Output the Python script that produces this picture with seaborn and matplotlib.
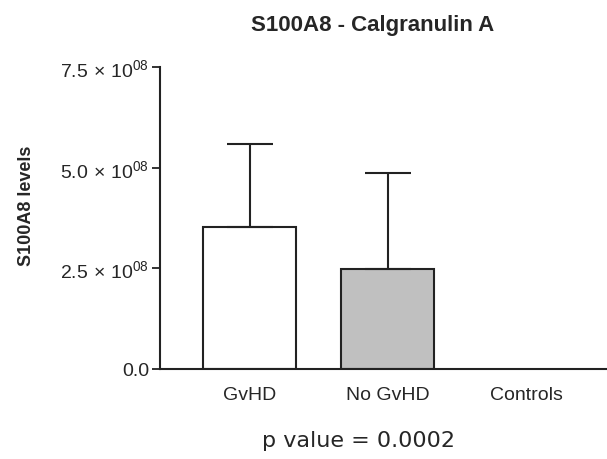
import numpy as np
import pandas as pd
import matplotlib
matplotlib.use("Agg")
import matplotlib.pyplot as plt
import seaborn as sns

# =========================
# DATA
# =========================
groups = ["GvHD", "No GvHD", "Controls"]
means = [3.52e8, 2.48e8, 0.0]
sd_upper = [2.06e8, 2.38e8, 0.0]
bar_colors = ["#ffffff", "#c0c0c0", "#ffffff"]
yticks = [0.0, 2.5e8, 5.0e8, 7.5e8]
ytick_labels = ["0.0",
                r"2.5$\,\times\,$10$^{08}$",
                r"5.0$\,\times\,$10$^{08}$",
                r"7.5$\,\times\,$10$^{08}$"]

df = pd.DataFrame({"group": groups, "level": means})

# =========================
# STYLE
# =========================
sns.set_style("ticks")
plt.rcParams["font.family"] = ["Liberation Sans", "DejaVu Sans"]
plt.rcParams["mathtext.fontset"] = "custom"
plt.rcParams["mathtext.rm"] = "Liberation Sans"
plt.rcParams["mathtext.it"] = "Liberation Sans"
plt.rcParams["font.size"] = 11

edge = "#222222"

fig = plt.figure(figsize=(6.07, 4.60), dpi=100)
ax = fig.add_axes([0.2636, 0.1957, 0.7364, 0.6565])

sns.barplot(
    data=df, x="group", y="level", hue="group",
    palette=bar_colors, legend=False,
    width=0.674, edgecolor=edge, linewidth=1.5,
    errorbar=None, ax=ax,
)

# Controls bar is empty: hide its outline
for patch, m in zip(ax.patches, means):
    if m == 0:
        patch.set_visible(False)

# upper-only error bars
pos = np.arange(len(groups))
ax.errorbar(
    pos[:2], means[:2],
    yerr=[np.zeros(2), sd_upper[:2]],
    fmt="none", ecolor=edge, elinewidth=1.5,
    capsize=16.5, capthick=1.5, zorder=1,
)

ax.set_xlim(-0.652, 2.587)
ax.set_ylim(0, 7.5e8)
ax.set_yticks(yticks)
ax.set_yticklabels(ytick_labels, fontsize=14)
ax.tick_params(axis="y", length=6, width=1.3, color=edge, pad=2)
ax.tick_params(axis="x", length=0, labelsize=14, pad=12)

for side in ["top", "right"]:
    ax.spines[side].set_visible(False)
for side in ["left", "bottom"]:
    ax.spines[side].set_linewidth(1.5)
    ax.spines[side].set_color(edge)

ax.set_xlabel("")
ax.set_ylabel("")

# labels placed in figure pixels
fig.text(27 / 607, 1 - 206 / 460, "S100A8 levels", fontsize=13,
         fontweight="bold", rotation=90, ha="center", va="center")
fig.text(359 / 607, 1 - 441 / 460, "p value = 0.0002", fontsize=16,
         family="DejaVu Sans", ha="center", va="center")
fig.text(373 / 607, 1 - 25 / 460, "S100A8 - Calgranulin A", fontsize=16,
         fontweight="bold", ha="center", va="center")

plt.savefig("out.png", dpi=100)
plt.close()
